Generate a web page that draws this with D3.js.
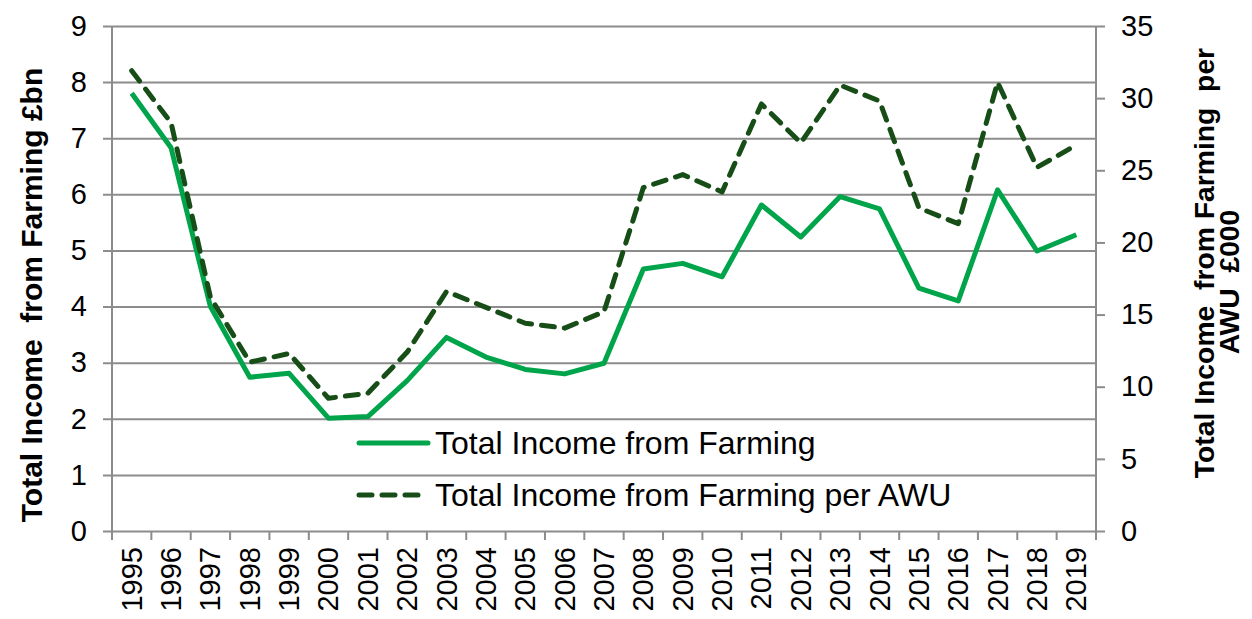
<!DOCTYPE html>
<html>
<head>
<meta charset="utf-8">
<script src="https://cdn.jsdelivr.net/npm/d3@7"></script>
<style>
  body { margin: 0; background: #fff; }
  svg { display: block; font-family: "Liberation Sans", Arial, sans-serif; }
</style>
</head>
<body>
<div id="viz"></div>
<script>
"use strict";
(function(){
    // data
    const years = ["1995","1996","1997","1998","1999","2000","2001","2002","2003","2004","2005","2006",
        "2007","2008","2009","2010","2011","2012","2013","2014","2015","2016","2017","2018","2019"];
    const tifBn = [7.8, 6.83, 4.0, 2.74, 2.81, 2.01, 2.04, 2.68, 3.45, 3.1, 2.88, 2.8,
        2.99, 4.67, 4.77, 4.53, 5.81, 5.24, 5.96, 5.74, 4.33, 4.1, 6.08, 4.99, 5.28];
    const tifPerAwu = [31.9, 28.3, 16.2, 11.7, 12.3, 9.2, 9.55, 12.4, 16.6, 15.5, 14.4, 14.06,
        15.2, 23.8, 24.7, 23.5, 29.6, 26.9, 30.9, 29.8, 22.4, 21.3, 31.1, 25.2, 26.75];
    const leftTicks = [0, 1, 2, 3, 4, 5, 6, 7, 8, 9];
    const rightTicks = [0, 5, 10, 15, 20, 25, 30, 35];
    const seriesNames = ["Total Income from Farming", "Total Income from Farming per AWU"];

    const measurements = { width: 1252, height: 619, left: 112, right: 1096, top: 26, bottom: 531 };
    const colors = { line: "#00a44a", dashed: "#174d17", grid: "#8c8c8c", text: "#000" };

    const svg = d3.select("#viz").append("svg")
        .attr("width", measurements.width)
        .attr("height", measurements.height);

    const x = d3.scaleBand()
        .domain(years)
        .range([measurements.left, measurements.right]);
    const yLeft = d3.scaleLinear().domain([0, 9]).range([measurements.bottom, measurements.top]);
    const yRight = d3.scaleLinear().domain([0, 35]).range([measurements.bottom, measurements.top]);

    // gridlines + left ticks
    const gLeft = svg.append("g")
        .attr("transform", `translate(${measurements.left},0)`)
        .call(d3.axisLeft(yLeft).tickValues(leftTicks).tickSize(9).tickPadding(16)
            .tickFormat(d3.format("d")));
    gLeft.select(".domain").remove();
    gLeft.selectAll(".tick line").attr("stroke", colors.grid).attr("stroke-width", 2)
        .attr("x2", measurements.right - measurements.left).attr("x1", -9);
    gLeft.selectAll(".tick text").attr("font-size", 29).attr("fill", colors.text)
        .attr("font-family", "Liberation Sans, Arial, sans-serif");

    // right axis
    const gRight = svg.append("g")
        .attr("transform", `translate(${measurements.right},0)`)
        .call(d3.axisRight(yRight).tickValues(rightTicks).tickSize(9).tickPadding(16));
    gRight.select(".domain").remove();
    gRight.selectAll(".tick line").attr("stroke", colors.grid).attr("stroke-width", 2);
    gRight.selectAll(".tick text").attr("font-size", 29).attr("fill", colors.text)
        .attr("font-family", "Liberation Sans, Arial, sans-serif");

    // vertical axis lines
    [measurements.left, measurements.right].forEach(function(px) {
        svg.append("line")
            .attr("x1", px).attr("x2", px)
            .attr("y1", measurements.top).attr("y2", measurements.bottom)
            .attr("stroke", colors.grid).attr("stroke-width", 2);
    });

    // bottom axis: ticks between categories
    const gBottom = svg.append("g")
        .attr("transform", `translate(0,${measurements.bottom})`);
    gBottom.selectAll("line.bt")
        .data(years.concat(["end"]))
        .enter().append("line")
        .attr("class", "bt")
        .attr("x1", (d, i) => measurements.left + i * x.step())
        .attr("x2", (d, i) => measurements.left + i * x.step())
        .attr("y1", 0).attr("y2", 9)
        .attr("stroke", colors.grid).attr("stroke-width", 2);
    gBottom.selectAll("text")
        .data(years)
        .enter().append("text")
        .attr("transform", d => `translate(${x(d) + x.bandwidth() / 2 + 10},16) rotate(-90)`)
        .attr("text-anchor", "end")
        .attr("font-size", 29)
        .attr("fill", colors.text)
        .text(d => d);

    // lines
    const lineLeft = d3.line()
        .x((d, i) => x(years[i]) + x.bandwidth() / 2)
        .y(d => yLeft(d));
    const lineRight = d3.line()
        .x((d, i) => x(years[i]) + x.bandwidth() / 2)
        .y(d => yRight(d));

    svg.append("path")
        .datum(tifBn)
        .attr("d", lineLeft)
        .attr("fill", "none")
        .attr("stroke", colors.line)
        .attr("stroke-width", 5)
        .attr("stroke-linejoin", "round");

    svg.append("path")
        .datum(tifPerAwu)
        .attr("d", lineRight)
        .attr("fill", "none")
        .attr("stroke", colors.dashed)
        .attr("stroke-width", 5)
        .attr("stroke-dasharray", "13,10")
        .attr("stroke-linecap", "round")
        .attr("stroke-linejoin", "round");

    // legend
    const legend = svg.append("g").attr("transform", "translate(359,443)");
    seriesNames.forEach(function(name, i) {
        const row = legend.append("g").attr("transform", `translate(0,${i * 52})`);
        row.append("line")
            .attr("x1", 0).attr("x2", 69)
            .attr("stroke", i === 0 ? colors.line : colors.dashed)
            .attr("stroke-width", 5)
            .attr("stroke-linecap", "round")
            .attr("stroke-dasharray", i === 0 ? null : "13,10");
        row.append("text")
            .attr("x", 76).attr("y", 11)
            .attr("font-size", 32)
            .attr("fill", colors.text)
            .text(name);
    });

    // axis titles
    svg.append("text")
        .attr("transform", "translate(42,295) rotate(-90)")
        .attr("text-anchor", "middle")
        .attr("font-size", 30)
        .attr("font-weight", "bold")
        .style("white-space", "pre")
        .text("Total Income  from Farming £bn");

    const rt = svg.append("text")
        .attr("transform", "translate(1214,263) rotate(-90)")
        .attr("text-anchor", "middle")
        .attr("font-size", 28.3)
        .attr("font-weight", "bold")
        .style("white-space", "pre");
    rt.append("tspan").attr("x", 0).attr("y", 0).text("Total Income  from Farming  per");
    rt.append("tspan").attr("x", -19).attr("y", 25).text("AWU  £000");
})()
</script>
</body>
</html>
